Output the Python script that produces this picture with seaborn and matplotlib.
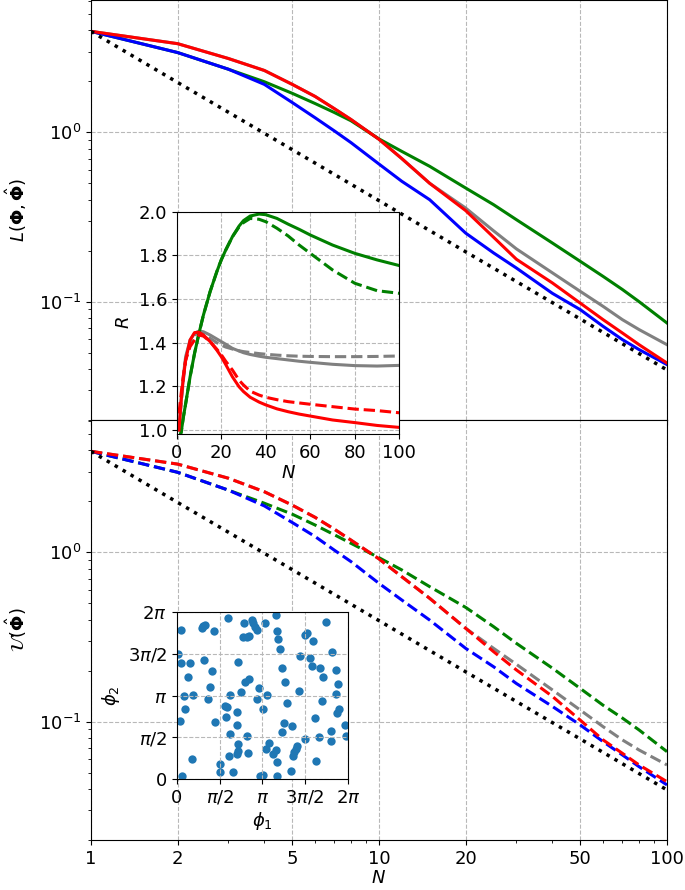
import numpy as np
import matplotlib
matplotlib.use("Agg")
import matplotlib.pyplot as plt
import seaborn as sns
from matplotlib.ticker import FixedLocator, FixedFormatter, NullFormatter, LogLocator, FormatStrFormatter

plt.rcParams['font.family'] = ['DejaVu Sans']
plt.rcParams['font.size'] = 13
plt.rcParams['mathtext.fontset'] = 'dejavusans'

# ---------------- data: main panels ----------------
N_main = [1, 2, 3, 4, 5, 6, 7, 8, 10, 12, 15, 20, 25, 30, 40, 50, 60, 70, 80, 100]

L_red   = [3.95, 3.34, 2.73, 2.32, 1.92, 1.63, 1.38, 1.19, 0.91, 0.70, 0.50, 0.345, 0.240, 0.178, 0.129, 0.098, 0.0783, 0.0653, 0.0557, 0.0434]
L_gray  = [3.95, 3.34, 2.73, 2.32, 1.92, 1.63, 1.38, 1.19, 0.91, 0.70, 0.50, 0.357, 0.262, 0.205, 0.148, 0.115, 0.0938, 0.0783, 0.0684, 0.0557]
L_green = [3.95, 2.96, 2.36, 1.99, 1.70, 1.48, 1.31, 1.17, 0.915, 0.772, 0.630, 0.469, 0.374, 0.305, 0.222, 0.173, 0.141, 0.118, 0.100, 0.0748]
L_blue  = [3.95, 2.96, 2.36, 1.92, 1.50, 1.22, 1.02, 0.869, 0.65, 0.514, 0.400, 0.254, 0.194, 0.158, 0.112, 0.0897, 0.0715, 0.0597, 0.0521, 0.0425]

U_red   = [3.95, 3.32, 2.74, 2.28, 1.90, 1.61, 1.37, 1.18, 0.915, 0.718, 0.535, 0.356, 0.259, 0.202, 0.141, 0.102, 0.078, 0.065, 0.0555, 0.0442]
U_gray  = [3.95, 3.32, 2.74, 2.28, 1.90, 1.61, 1.37, 1.18, 0.915, 0.718, 0.535, 0.356, 0.271, 0.218, 0.154, 0.117, 0.0934, 0.078, 0.068, 0.0555]
U_green = [3.95, 2.97, 2.33, 1.95, 1.68, 1.45, 1.27, 1.13, 0.93, 0.787, 0.627, 0.473, 0.364, 0.290, 0.207, 0.157, 0.125, 0.105, 0.0893, 0.0665]
U_blue  = [3.95, 2.97, 2.33, 1.88, 1.50, 1.24, 1.03, 0.881, 0.656, 0.523, 0.398, 0.271, 0.211, 0.168, 0.123, 0.0955, 0.0762, 0.0636, 0.0542, 0.0423]

N_ref = [1, 2, 5, 10, 20, 50, 100]
ref_line = [3.95, 1.97, 0.79, 0.395, 0.197, 0.079, 0.0395]

x_major = [1, 2, 5, 10, 20, 50, 100]
x_major_labels = ['1', '2', '5', '10', '20', '50', '100']

# ---------------- data: inset R(N) ----------------
N_R = [1, 2, 3, 4, 6, 8, 10, 12, 15, 18, 20, 22, 25, 28, 30, 33, 37, 40, 45, 50, 55, 60, 70, 80, 90, 100]
R_green   = [0.96, 0.99, 1.06, 1.12, 1.244, 1.351, 1.443, 1.527, 1.634, 1.725, 1.779, 1.824, 1.885, 1.934, 1.959,
             1.980, 1.989, 1.986, 1.969, 1.943, 1.919, 1.893, 1.847, 1.809, 1.779, 1.753]
R_green_d = [0.96, 0.99, 1.06, 1.12, 1.244, 1.351, 1.443, 1.527, 1.634, 1.725, 1.779, 1.824, 1.885, 1.930, 1.950,
             1.969, 1.965, 1.954, 1.924, 1.889, 1.847, 1.809, 1.733, 1.672, 1.638, 1.626]
R_gray    = [1.0, 1.14, 1.25, 1.336, 1.412, 1.443, 1.453, 1.450, 1.435, 1.417, 1.405, 1.393, 1.374, 1.362, 1.354,
             1.346, 1.338, 1.333, 1.327, 1.321, 1.315, 1.310, 1.301, 1.295, 1.293, 1.296]
R_gray_d  = [1.0, 1.12, 1.23, 1.320, 1.400, 1.435, 1.446, 1.443, 1.420, 1.400, 1.389, 1.380, 1.371, 1.363, 1.359,
             1.355, 1.350, 1.347, 1.343, 1.340, 1.338, 1.337, 1.336, 1.336, 1.337, 1.339]
R_red     = [1.0, 1.137, 1.24, 1.320, 1.412, 1.446, 1.448, 1.435, 1.405, 1.366, 1.336, 1.300, 1.244, 1.198, 1.176,
             1.150, 1.128, 1.115, 1.097, 1.084, 1.073, 1.064, 1.046, 1.034, 1.021, 1.012]
R_red_d   = [1.076, 1.168, 1.25, 1.320, 1.382, 1.412, 1.435, 1.430, 1.405, 1.370, 1.345, 1.315, 1.275, 1.228, 1.206,
             1.178, 1.160, 1.150, 1.139, 1.130, 1.124, 1.118, 1.107, 1.096, 1.089, 1.079]

# ---------------- data: inset scatter (in units of pi) ----------------
phi1_over_pi = [0.066, 0.047, 0.292, 0.311, 0.331, 0.440, 0.595, 0.790, 0.875, 0.895, 0.914, 0.934, 0.770, 0.817, 0.844,
                1.031, 1.156, 1.167, 1.187, 1.206, 1.498, 1.518, 1.595, 1.743, 1.813, 0.016, 0.051, 0.156, 0.136, 0.323,
                0.409, 0.389, 0.370, 0.086, 0.187, 0.101, 0.039, 0.451, 0.175, 0.506, 0.506, 0.654, 0.611, 0.708, 0.716,
                0.720, 0.817, 0.829, 0.623, 0.576, 0.564, 0.584, 0.623, 0.747, 0.798, 0.844, 0.720, 0.708, 0.700, 0.965,
                0.938, 1.004, 1.051, 0.973, 1.004, 1.171, 1.043, 1.082, 1.128, 1.156, 1.175, 1.226, 1.253, 1.226, 1.268,
                1.288, 1.339, 1.346, 1.362, 1.370, 1.389, 1.401, 1.424, 1.444, 1.498, 1.553, 1.576, 1.619, 1.626, 1.665,
                1.677, 1.693, 1.712, 1.798, 1.802, 1.856, 1.856, 1.887, 1.875, 1.895, 1.961, 1.973]
phi2_over_pi = [0.036, 1.788, 1.808, 1.836, 1.848, 1.776, 1.928, 1.868, 1.908, 1.868, 1.828, 1.788, 1.700, 1.708, 1.716,
                1.876, 1.964, 1.780, 1.684, 1.556, 1.724, 1.748, 1.660, 1.880, 1.528, 1.496, 1.388, 1.388, 1.228, 1.424,
                1.300, 1.100, 0.960, 0.992, 1.012, 0.844, 0.696, 0.684, 0.244, 0.176, 0.084, 0.084, 0.272, 0.304, 0.336,
                0.420, 0.512, 0.316, 0.540, 0.740, 0.876, 0.868, 1.004, 1.044, 1.168, 1.200, 1.408, 0.644, 0.808, 1.096,
                0.956, 0.840, 1.008, 0.040, 0.044, 0.040, 0.364, 0.428, 0.296, 0.348, 0.200, 0.560, 0.668, 1.332, 1.168,
                0.912, 0.096, 0.636, 0.276, 0.324, 0.356, 0.396, 1.052, 1.476, 0.480, 1.456, 1.356, 0.736, 0.216, 0.508,
                1.336, 0.940, 1.228, 0.580, 0.456, 1.304, 1.020, 1.136, 0.788, 0.836, 0.648, 0.512]

pi_ticks = [0, 0.5, 1.0, 1.5, 2.0]
pi_labels = ['0', r'$\pi/2$', r'$\pi$', r'$3\pi/2$', r'$2\pi$']
R_xticks = [0, 20, 40, 60, 80, 100]
R_yticks = [1.0, 1.2, 1.4, 1.6, 1.8, 2.0]

# ---------------- figure ----------------
fig = plt.figure(figsize=(6.85, 8.9), dpi=100)
ax1 = fig.add_axes([0.1328, 0.5281, 0.8409, 0.4719])
ax2 = fig.add_axes([0.1328, 0.0562, 0.8409, 0.4719], sharex=ax1)

LW = 2.2
grid_kw = dict(ls='--', color='#b8b8b8', lw=0.8)

for ax in (ax1, ax2):
    ax.set_xscale('log')
    ax.set_yscale('log')

sns.lineplot(x=N_main, y=L_gray, ax=ax1, color='gray', lw=LW)
sns.lineplot(x=N_main, y=L_green, ax=ax1, color='green', lw=LW)
sns.lineplot(x=N_main, y=L_blue, ax=ax1, color='blue', lw=LW)
sns.lineplot(x=N_main, y=L_red, ax=ax1, color='red', lw=LW)
sns.lineplot(x=N_ref, y=ref_line, ax=ax1, color='black', lw=2.5, linestyle=':')

sns.lineplot(x=N_main, y=U_gray, ax=ax2, color='gray', lw=LW, linestyle='--')
sns.lineplot(x=N_main, y=U_green, ax=ax2, color='green', lw=LW, linestyle='--')
sns.lineplot(x=N_main, y=U_blue, ax=ax2, color='blue', lw=LW, linestyle='--')
sns.lineplot(x=N_main, y=U_red, ax=ax2, color='red', lw=LW, linestyle='--')
sns.lineplot(x=N_ref, y=ref_line, ax=ax2, color='black', lw=2.5, linestyle=':')

for ax in (ax1, ax2):
    ax.set_xlim(1, 100)
    ax.set_ylim(0.02, 6.05)
    ax.xaxis.set_major_locator(FixedLocator(x_major))
    ax.xaxis.set_major_formatter(FixedFormatter(x_major_labels))
    ax.xaxis.set_minor_locator(LogLocator(base=10, subs=np.arange(2, 10)))
    ax.xaxis.set_minor_formatter(NullFormatter())
    ax.grid(True, which='major', **grid_kw)
    ax.grid(False, which='minor')

ax1.tick_params(axis='x', labelbottom=False)
ax1.set_xlabel('')
ax2.set_xlabel(r'$N$', labelpad=1)
ax1.set_ylabel(r'$L(\mathbf{\Phi},\hat{\mathbf{\Phi}})$', labelpad=7)
ax2.set_ylabel(r'$\mathcal{U}(\hat{\mathbf{\Phi}})$', labelpad=7)

# ---------------- inset R ----------------
axi1 = fig.add_axes([0.258, 0.5124, 0.325, 0.2498])
sns.lineplot(x=N_R, y=R_gray, ax=axi1, color='gray', lw=LW)
sns.lineplot(x=N_R, y=R_gray_d, ax=axi1, color='gray', lw=LW, linestyle='--')
sns.lineplot(x=N_R, y=R_green, ax=axi1, color='green', lw=LW)
sns.lineplot(x=N_R, y=R_green_d, ax=axi1, color='green', lw=LW, linestyle='--')
sns.lineplot(x=N_R, y=R_red, ax=axi1, color='red', lw=LW)
sns.lineplot(x=N_R, y=R_red_d, ax=axi1, color='red', lw=LW, linestyle='--')
axi1.set_xlim(0, 100)
axi1.set_ylim(0.982, 2.0)
axi1.set_xticks(R_xticks)
axi1.set_yticks(R_yticks)
axi1.yaxis.set_major_formatter(FormatStrFormatter('%.1f'))
axi1.grid(True, **grid_kw)
axi1.set_xlabel(r'$N$', labelpad=2)
axi1.set_ylabel(r'$R$')

# ---------------- inset scatter ----------------
axi2 = fig.add_axes([0.258, 0.1247, 0.2501, 0.1873])
sns.scatterplot(x=np.array(phi1_over_pi) * np.pi, y=np.array(phi2_over_pi) * np.pi, ax=axi2,
                color='#1f77b4', s=36, linewidth=0)
axi2.set_xlim(0, 2 * np.pi)
axi2.set_ylim(0, 2 * np.pi)
axi2.set_xticks(np.array(pi_ticks) * np.pi)
axi2.set_xticklabels(pi_labels)
axi2.set_yticks(np.array(pi_ticks) * np.pi)
axi2.set_yticklabels(pi_labels)
axi2.grid(True, **grid_kw)
axi2.set_xlabel(r'$\phi_1$', labelpad=2)
axi2.set_ylabel(r'$\phi_2$')

fig.savefig('out.png', dpi=100)
